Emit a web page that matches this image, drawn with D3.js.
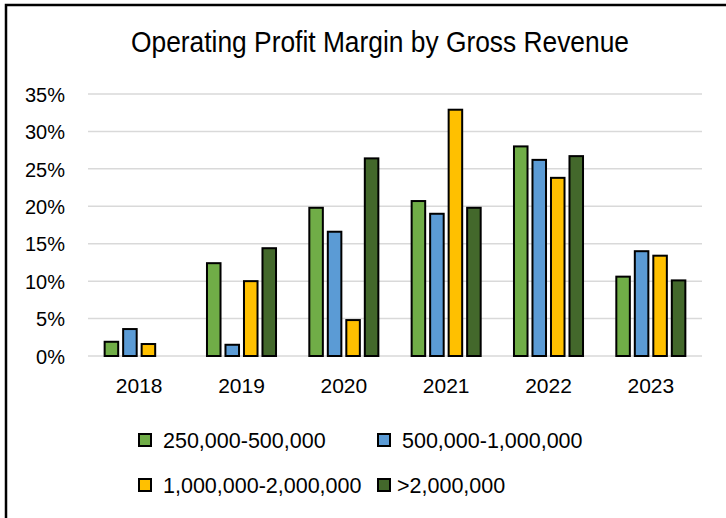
<!DOCTYPE html>
<html>
<head>
<meta charset="utf-8">
<script src="https://cdn.jsdelivr.net/npm/d3@7"></script>
<style>
  html, body { margin: 0; padding: 0; background: #fff; }
  svg { display: block; font-family: "Liberation Sans", Arial, sans-serif; }
</style>
</head>
<body>
<svg id="chart" width="726" height="518"></svg>
<script>
const title = "Operating Profit Margin by Gross Revenue";
const years = ["2018", "2019", "2020", "2021", "2022", "2023"];
const seriesNames = ["250,000-500,000", "500,000-1,000,000", "1,000,000-2,000,000", ">2,000,000"];
const seriesColors = ["#70AD47", "#5B9BD5", "#FFC000", "#43682B"];
const s1 = [1.9, 12.4, 19.8, 20.7, 28.0, 10.6];
const s2 = [3.6, 1.5, 16.6, 19.0, 26.2, 14.0];
const s3 = [1.6, 10.0, 4.8, 32.9, 23.8, 13.4];
const s4 = [null, 14.4, 26.4, 19.8, 26.7, 10.1];
const yTicks = [0, 5, 10, 15, 20, 25, 30, 35];

const seriesValues = [s1, s2, s3, s4];
const svg = d3.select("#chart");

// outer frame
svg.append("rect").attr("x", 6).attr("y", 5).attr("width", 760).attr("height", 560)
  .attr("fill", "none").attr("stroke", "#000").attr("stroke-width", 2.5);

// title
const t = svg.append("text").attr("x", 380).attr("y", 52).attr("text-anchor", "middle")
  .attr("font-size", 29).attr("fill", "#000").text(title);
const tl = t.node().getComputedTextLength();
if (tl > 498) t.attr("textLength", 498).attr("lengthAdjust", "spacingAndGlyphs");

const x = d3.scaleBand().domain(years).range([88, 702]).padding(0);
const y = d3.scaleLinear().domain([0, 35]).range([356, 94]);
const groupW = 74;
const xs = d3.scaleBand().domain(d3.range(4)).range([(x.bandwidth() - groupW) / 2, (x.bandwidth() + groupW) / 2]).paddingInner(0.16).paddingOuter(0.08);

// gridlines
svg.append("g").selectAll("line").data(yTicks).join("line")
  .attr("x1", 88).attr("x2", 702)
  .attr("y1", d => y(d)).attr("y2", d => y(d))
  .attr("stroke", "#D9D9D9").attr("stroke-width", 1.5);

// y axis labels
const yAxis = d3.axisLeft(y).tickValues(yTicks).tickFormat(d => d + "%").tickSize(0).tickPadding(0);
const ya = svg.append("g").attr("transform", "translate(65,0)").call(yAxis);
ya.select(".domain").remove();
ya.selectAll("text").attr("font-size", 20).attr("fill", "#000").attr("font-family", "Liberation Sans, Arial, sans-serif").attr("dy", "0.36em");

// x axis labels
const xAxis = d3.axisBottom(x).tickSize(0).tickPadding(0);
const xa = svg.append("g").attr("transform", "translate(0,378)").call(xAxis);
xa.select(".domain").remove();
xa.selectAll("text").attr("font-size", 21).attr("fill", "#000").attr("font-family", "Liberation Sans, Arial, sans-serif").attr("dy", "0.72em");

// bars
const barData = [];
seriesValues.forEach((arr, si) => arr.forEach((v, i) => { if (v != null) barData.push({ si, year: years[i], v }); }));
svg.append("g").selectAll("rect").data(barData).join("rect")
  .attr("x", d => x(d.year) + xs(d.si) + 1)
  .attr("width", xs.bandwidth() - 2)
  .attr("y", d => y(d.v))
  .attr("height", d => y(0) - y(d.v))
  .attr("fill", d => seriesColors[d.si])
  .attr("stroke", "#000").attr("stroke-width", 2);

// legend
const legendPos = [[139, 434], [378, 434], [139, 479], [378, 479]];
const lg = svg.append("g").selectAll("g").data(seriesNames).join("g")
  .attr("transform", (d, i) => `translate(${legendPos[i][0]},${legendPos[i][1]})`);
lg.append("rect").attr("x", 0).attr("y", 0).attr("width", 12).attr("height", 12)
  .attr("fill", (d, i) => seriesColors[i]).attr("stroke", "#000").attr("stroke-width", 2);
lg.append("text").attr("x", (d, i) => i === 3 ? 19 : 24).attr("y", 14)
  .attr("font-size", 21.5).attr("fill", "#000").text(d => d);
</script>
</body>
</html>
